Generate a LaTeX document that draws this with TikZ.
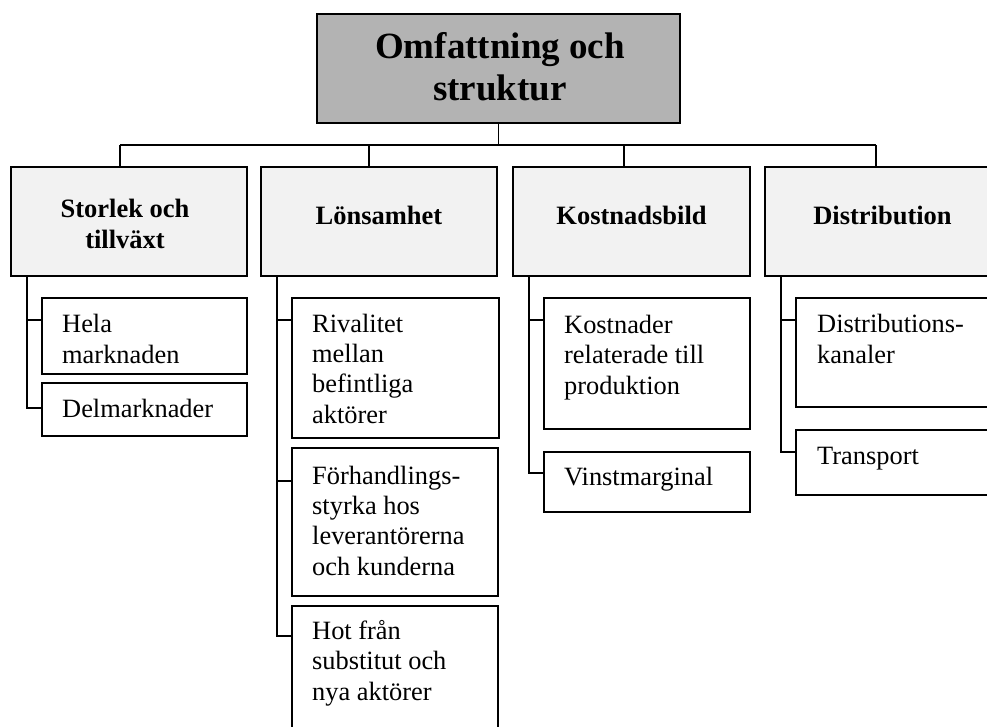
\documentclass[tikz,border=0pt]{standalone}
\usepackage{fontspec}
\setmainfont{Liberation Serif}
\definecolor{topgray}{HTML}{B3B3B3}
\definecolor{midgray}{HTML}{F2F2F2}
\tikzset{
  box/.style={draw=black, line width=1.5pt, inner sep=0pt, outer sep=0pt, anchor=north west},
  topbox/.style={box, fill=topgray},
  midbox/.style={box, fill=midgray},
  leafbox/.style={box, fill=white},
  titletxt/.style={font=\fontsize{37}{42}\selectfont\bfseries, align=center, inner sep=0pt, anchor=base},
  headtxt/.style={font=\fontsize{26.5}{30.3}\selectfont\bfseries, align=center, inner sep=0pt, anchor=base},
  leaftxt/.style={font=\fontsize{26.4}{30.3}\selectfont, align=left, inner sep=0pt, anchor=base west},
  conn/.style={draw=black, line width=1.3pt},
}
\begin{document}
\begin{tikzpicture}[x=1pt,y=-1pt]
\useasboundingbox (0,0) rectangle (987,726);
\clip (0,0) rectangle (987,726);
% top
\node[topbox, minimum width=363pt, minimum height=109pt] (top) at (317,14) {};
\node[titletxt] (toptxt) at (500,100) {Omfattning och\\struktur};
% level 2
\node[midbox, minimum width=236pt, minimum height=109pt] (s1) at (11,167) {};
\node[midbox, minimum width=236pt, minimum height=109pt] (s2) at (261,167) {};
\node[midbox, minimum width=237pt, minimum height=109pt] (s3) at (513,167) {};
\node[midbox, minimum width=236pt, minimum height=109pt] (s4) at (765,167) {};
\node[headtxt] (s1t) at (125,248) {Storlek och\\tillväxt};
\node[headtxt] (s2t) at (379,224) {Lönsamhet};
\node[headtxt] (s3t) at (631.5,224) {Kostnadsbild};
\node[headtxt] (s4t) at (882.5,224) {Distribution};
% level 3 boxes
\node[leafbox, minimum width=205pt, minimum height=76pt] (a1) at (42,298) {};
\node[leafbox, minimum width=205pt, minimum height=53pt] (a2) at (42,383) {};
\node[leafbox, minimum width=207pt, minimum height=140pt] (b1) at (292,298) {};
\node[leafbox, minimum width=206pt, minimum height=148pt] (b2) at (292,448) {};
\node[leafbox, minimum width=206pt, minimum height=150pt] (b3) at (292,606) {};
\node[leafbox, minimum width=206pt, minimum height=131pt] (c1) at (544,298) {};
\node[leafbox, minimum width=206pt, minimum height=60pt] (c2) at (544,452) {};
\node[leafbox, minimum width=210pt, minimum height=109pt] (d1) at (796,298) {};
\node[leafbox, minimum width=210pt, minimum height=65pt] (d2) at (796,430) {};
% level 3 texts (anchor at baseline of last line)
\node[leaftxt] (a1t) at (62,363) {Hela\\marknaden};
\node[leaftxt] (a2t) at (62,417) {Delmarknader};
\node[leaftxt] (b1t) at (312,423) {Rivalitet\\mellan\\befintliga\\aktörer};
\node[leaftxt] (b2t) at (312,575) {Förhandlings-\\styrka hos\\leverantörerna\\och kunderna};
\node[leaftxt] (b3t) at (312,700) {Hot från\\substitut och\\nya aktörer};
\node[leaftxt] (c1t) at (564,394) {Kostnader\\relaterade till\\produktion};
\node[leaftxt] (c2t) at (564,485) {Vinstmarginal};
\node[leaftxt] (d1t) at (817,363) {Distributions-\\kanaler};
\node[leaftxt] (d2t) at (817,464) {Transport};
% bus coordinates
\coordinate (busL) at (120,145);
\coordinate (bus2) at (369,145);
\coordinate (bus3) at (624,145);
\coordinate (busR) at (876,145);
\draw[conn] (top.south) -- (top.south |- busL);
\draw[conn] (busL) -- (busR);
\draw[conn] (busL) -- (busL |- s1.north);
\draw[conn] (bus2) -- (bus2 |- s2.north);
\draw[conn] (bus3) -- (bus3 |- s3.north);
\draw[conn] (busR) -- (busR |- s4.north);
% branch points
\coordinate (v1) at (27,0);
\coordinate (v2) at (277,0);
\coordinate (v3) at (529,0);
\coordinate (v4) at (781,0);
\coordinate (a1c) at (42,320);
\coordinate (a2c) at (42,408);
\coordinate (b1c) at (292,320);
\coordinate (b2c) at (292,481);
\coordinate (b3c) at (292,636);
\coordinate (c1c) at (544,320);
\coordinate (c2c) at (544,473);
\coordinate (d1c) at (796,320);
\coordinate (d2c) at (796,452);
\draw[conn] (v1 |- s1.south) |- (a2c);
\draw[conn] (v1 |- a1c) -- (a1c);
\draw[conn] (v2 |- s2.south) |- (b3c);
\draw[conn] (v2 |- b1c) -- (b1c);
\draw[conn] (v2 |- b2c) -- (b2c);
\draw[conn] (v3 |- s3.south) |- (c2c);
\draw[conn] (v3 |- c1c) -- (c1c);
\draw[conn] (v4 |- s4.south) |- (d2c);
\draw[conn] (v4 |- d1c) -- (d1c);
\end{tikzpicture}
\end{document}
